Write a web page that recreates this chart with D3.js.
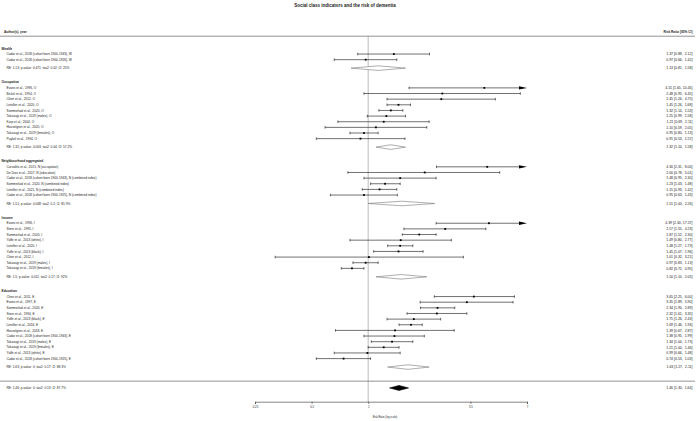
<!DOCTYPE html>
<html>
<head>
<meta charset="utf-8">
<script src="https://cdn.jsdelivr.net/npm/d3@7"></script>
<style>
  body { margin: 0; background: #fff; }
  text { font-family: "Liberation Sans", Arial, sans-serif; fill: #222; }
</style>
</head>
<body>
<div id="chart"></div>
<script>
// forest plot data, one set of arrays per indicator
let groupNames = ['Wealth', 'Occupation', 'Neighbourhood aggregated', 'Income', 'Education'];

let wealthLabels = ['Cadar et al., 2018 (cohort born 1900-1943), W', 'Cadar et al., 2018 (cohort born 1900-1926), W'];
let wealthEst = [1.37, 0.97];
let wealthLo = [0.88, 0.66];
let wealthHi = [2.12, 1.42];

let occLabels = ['Evans et al., 1996, O', 'Bickel et al., 1994, O', 'Chen et al., 2012, O', 'Letellier et al., 2020, O',
  'Sommerlad et al., 2020, O', 'Takasugi et al., 2019 (males), O', 'Karp et al., 2004, O', 'Hasselgren et al., 2020, O',
  'Takasugi et al., 2019 (females), O', 'Paykel et al., 1994, O'];
let occEst = [4.15, 2.48, 2.45, 1.45, 1.32, 1.25, 1.21, 1.10, 0.95, 0.91];
let occLo = [1.65, 0.95, 1.26, 1.26, 1.14, 0.99, 0.69, 0.59, 0.80, 0.53];
let occHi = [10.45, 6.45, 4.75, 1.68, 1.53, 1.58, 2.11, 2.05, 1.13, 1.57];

let neighLabels = ['Carvalho et al., 2015, N (occupation)', 'De Dios et al., 2017, N (education)',
  'Cadar et al., 2018 (cohort born 1900-1943), N (combined index)', 'Sommerlad et al., 2020, N (combined index)',
  'Letellier et al., 2021, N (combined index)', 'Cadar et al., 2018 (cohort born 1900-1925), N (combined index)'];
let neighEst = [4.30, 2.00, 1.48, 1.23, 1.15, 0.95];
let neighLo = [2.31, 0.78, 0.95, 1.03, 0.93, 0.63];
let neighHi = [8.00, 5.01, 2.30, 1.48, 1.42, 1.43];

let incLabels = ['Evans et al., 1996, I', 'Stern et al., 1995, I', 'Sommerlad et al., 2020, I', 'Yaffe et al., 2013 (white), I',
  'Letellier et al., 2020, I', 'Yaffe et al., 2013 (black), I', 'Chen et al., 2012, I', 'Takasugi et al., 2019 (males), I',
  'Takasugi et al., 2019 (females), I'];
let incEst = [4.39, 2.57, 1.87, 1.49, 1.48, 1.45, 1.01, 0.97, 0.82];
let incLo = [2.30, 1.55, 1.52, 0.80, 1.27, 1.07, 0.32, 0.83, 0.72];
let incHi = [17.57, 4.23, 2.30, 2.77, 1.73, 1.96, 3.21, 1.13, 0.95];

let eduLabels = ['Chen et al., 2011, E', 'Evans et al., 1997, E', 'Sommerlad et al., 2020, E', 'Stern et al., 1994, E',
  'Yaffe et al., 2013 (black), E', 'Letellier et al., 2016, E', 'Hasselgren et al., 2018, E',
  'Cadar et al., 2018 (cohort born 1900-1943), E', 'Takasugi et al., 2019 (males), E', 'Takasugi et al., 2019 (females), E',
  'Yaffe et al., 2013 (white), E', 'Cadar et al., 2018 (cohort born 1900-1925), E'];
let eduEst = [3.65, 3.35, 2.34, 2.32, 1.75, 1.69, 1.39, 1.38, 1.34, 1.21, 0.99, 0.74];
let eduLo = [2.25, 1.89, 1.90, 1.61, 1.26, 1.46, 0.67, 0.95, 1.04, 1.00, 0.66, 0.53];
let eduHi = [6.00, 5.90, 2.89, 3.35, 2.43, 1.94, 2.87, 1.99, 1.73, 1.46, 1.48, 1.03];

// random effects summaries per group, then overall
let reText = ['RE: 1.13; p-value: 0.471; tau2: 0.02; I2: 25%', 'RE: 1.32; p-value: 0.003; tau2: 0.04; I2: 57.2%',
  'RE: 1.51; p-value: 0.048; tau2: 0.2; I2: 81.9%', 'RE: 1.5; p-value: 0.011; tau2: 0.17; I2: 92%',
  'RE: 1.63; p-value: 0; tau2: 0.17; I2: 88.3%'];
let reEst = [1.13, 1.32, 1.51, 1.50, 1.63];
let reLo = [0.81, 1.10, 1.00, 1.10, 1.27];
let reHi = [1.58, 1.58, 2.26, 2.05, 2.11];

let overallText = 'RE: 1.46; p-value: 0; tau2: 0.13; I2: 87.7%';
let overallEst = 1.46, overallLo = 1.30, overallHi = 1.64;

let xTicks = [0.25, 0.5, 1, 3.5, 7];

let width = 696, height = 421;
let studyLabels = [wealthLabels, occLabels, neighLabels, incLabels, eduLabels];
let studyEst = [wealthEst, occEst, neighEst, incEst, eduEst];
let studyLo = [wealthLo, occLo, neighLo, incLo, eduLo];
let studyHi = [wealthHi, occHi, neighHi, incHi, eduHi];

let x = d3.scaleLog().base(2).domain([0.25, 7]).range([255, 527]);
// y in row units
let y = d3.scaleLinear().domain([0, 55]).range([48.4, 48.4 + 55 * 5.64]);

function fmt(v) { return v.toFixed(2); }
function ciText(e, l, h) {
    var hs = fmt(h);
    if (hs.length < 5) hs = '\u00a0' + hs;
    return fmt(e) + ' [' + fmt(l) + ', ' + hs + ']';
}

let svg = d3.select('#chart').append('svg')
    .attr('width', width)
    .attr('height', height);

svg.append('rect').attr('width', width).attr('height', height).attr('fill', '#fff');

svg.append('text')
    .attr('x', 345).attr('y', 7)
    .attr('text-anchor', 'middle')
    .attr('font-size', 4.5).attr('font-weight', 'bold')
    .text('Social class indicators and the risk of dementia');

svg.append('text').attr('x', 4).attr('y', y(-3) + 1.1)
    .attr('font-size', 3.2).attr('font-weight', 'bold').text('Author(s), year');
svg.append('text').attr('x', 692.5).attr('y', y(-3) + 1.1).attr('text-anchor', 'end')
    .attr('font-size', 3.2).attr('font-weight', 'bold').text('Risk Ratio [95% CI]');

// reference line at 1
svg.append('line')
    .attr('x1', x(1)).attr('x2', x(1))
    .attr('y1', 36).attr('y2', 401.7)
    .attr('stroke', '#aaa').attr('stroke-width', 0.8);

svg.append('line').attr('x1', 0).attr('x2', 695).attr('y1', 36.2).attr('y2', 36.2)
    .attr('stroke', '#777').attr('stroke-width', 0.8);
svg.append('line').attr('x1', 0).attr('x2', 695).attr('y1', y(59)).attr('y2', y(59))
    .attr('stroke', '#777').attr('stroke-width', 0.8);

function drawStudy(label, e, l, h, u) {
    var yy = y(u);
    svg.append('text').attr('x', 6.5).attr('y', yy + 1.1).attr('font-size', 3.2).text(label);
    svg.append('text').attr('x', 692.5).attr('y', yy + 1.2).attr('text-anchor', 'end')
        .attr('font-size', 3.5).text(ciText(e, l, h));
    var xmax = x.domain()[1];
    var clipped = h > xmax;
    var x1 = x(l), x2 = clipped ? x(xmax) - 8 : x(h);
    svg.append('line').attr('x1', x1).attr('x2', x2).attr('y1', yy).attr('y2', yy)
        .attr('stroke', '#111').attr('stroke-width', 0.6);
    svg.append('line').attr('x1', x1).attr('x2', x1).attr('y1', yy - 1.3).attr('y2', yy + 1.3)
        .attr('stroke', '#111').attr('stroke-width', 0.6);
    if (clipped) {
        svg.append('polygon')
            .attr('points', [[x(xmax) - 8, yy - 1.7], [x(xmax), yy], [x(xmax) - 8, yy + 1.7]].join(' '))
            .attr('fill', '#000');
    } else {
        svg.append('line').attr('x1', x2).attr('x2', x2).attr('y1', yy - 1.3).attr('y2', yy + 1.3)
            .attr('stroke', '#111').attr('stroke-width', 0.6);
    }
    svg.append('rect').attr('x', x(e) - 0.9).attr('y', yy - 0.9)
        .attr('width', 1.8).attr('height', 1.8).attr('fill', '#000');
}

function drawDiamond(label, e, l, h, u, filled) {
    var yy = y(u);
    var hh = filled ? 2.5 : 2.3;
    svg.append('text').attr('x', 6.5).attr('y', yy + 1.1).attr('font-size', 3.2).text(label);
    svg.append('text').attr('x', 692.5).attr('y', yy + 1.2).attr('text-anchor', 'end')
        .attr('font-size', 3.5).text(ciText(e, l, h));
    svg.append('polygon')
        .attr('points', [[x(l), yy], [x(e), yy - hh], [x(h), yy], [x(e), yy + hh]].join(' '))
        .attr('fill', filled ? '#000' : '#fff')
        .attr('stroke', filled ? '#000' : '#777')
        .attr('stroke-width', 0.6);
}

// rows laid out in units: header, studies, RE, gap
let u = 0;
groupNames.forEach(function(name, gi) {
    svg.append('text').attr('x', 1.5).attr('y', y(u) + 1.1)
        .attr('font-size', 3.2).attr('font-weight', 'bold').text(name);
    u += 1;
    studyLabels[gi].forEach(function(lab, i) {
        drawStudy(lab, studyEst[gi][i], studyLo[gi][i], studyHi[gi][i], u);
        u += 1;
    });
    u += 0.5;
    drawDiamond(reText[gi], reEst[gi], reLo[gi], reHi[gi], u, false);
    u += 2.5;
});

drawDiamond(overallText, overallEst, overallLo, overallHi, 60.2, true);

// x axis
let axisY = 401.7;
let axis = svg.append('g')
    .attr('transform', 'translate(0,' + axisY + ')')
    .call(d3.axisBottom(x).tickValues(xTicks).tickSize(2.2).tickPadding(2)
        .tickFormat(function(d) { return String(d); }));
axis.select('.domain').attr('stroke', '#333').attr('stroke-width', 0.6);
axis.selectAll('.tick line').attr('stroke', '#333').attr('stroke-width', 0.6);
axis.selectAll('.tick text').attr('font-size', 2.8).attr('fill', '#222')
    .attr('font-family', '"Liberation Sans", Arial, sans-serif');

svg.append('text')
    .attr('x', 385).attr('y', 418)
    .attr('text-anchor', 'middle')
    .attr('font-size', 2.6)
    .text('Risk Ratio (log scale)');
</script>
</body>
</html>
